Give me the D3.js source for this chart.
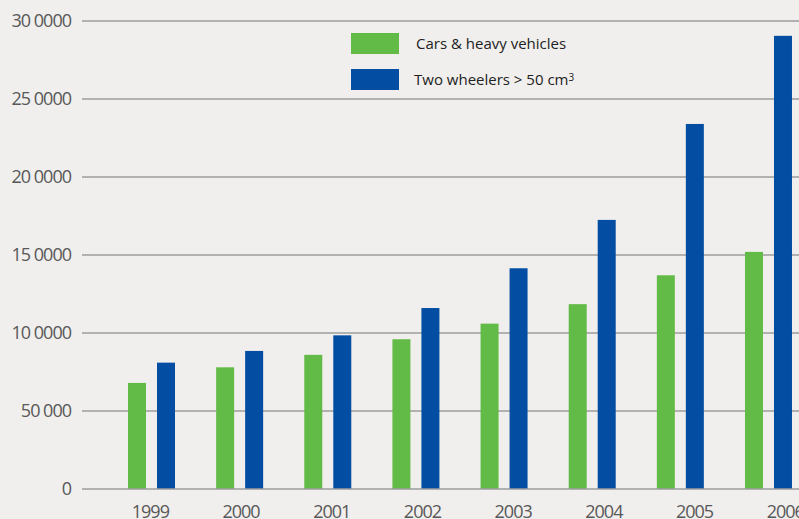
<!DOCTYPE html>
<html>
<head>
<meta charset="utf-8">
<script src="https://cdn.jsdelivr.net/npm/d3@7"></script>
<style>
  html, body { margin: 0; padding: 0; background: #f0efed; }
  svg { display: block; }
  text { font-family: "Open Sans", sans-serif; }
</style>
</head>
<body>
<svg id="chart"></svg>
<script>
document.addEventListener("DOMContentLoaded", function() {

    // chart size
    var width = 799;
    var height = 519;

    // data
    var years = ["1999", "2000", "2001", "2002", "2003", "2004", "2005", "2006"];
    var cars = [68000, 78000, 86000, 96000, 106000, 118500, 137000, 152000];
    var twoWheelers = [81000, 88500, 98500, 116000, 141500, 172500, 234000, 290500];
    var seriesNames = ["Cars & heavy vehicles", "Two wheelers > 50 cm"];
    var yTicks = [0, 50000, 100000, 150000, 200000, 250000, 300000];
    var yTickLabels = ["0", "50 000", "10 0000", "15 0000", "20 0000", "25 0000", "30 0000"];

    var colors = ["#63bb47", "#034ea2"];

    var svg = d3.select("#chart")
        .attr("width", width)
        .attr("height", height);

    var yScale = d3.scaleLinear()
        .domain([0, 300000])
        .range([489, 21]);

    // bar groups
    var xBand = d3.scaleBand()
        .domain(years)
        .range([128, 128 + 8 * 88.14])
        .padding(0);

    var xSub = d3.scaleBand()
        .domain([0, 1])
        .range([0, 47])
        .paddingInner(11 / 29)
        .paddingOuter(0);

    // year labels sit on a slightly wider spacing than the bars
    var xLabel = d3.scaleBand()
        .domain(years)
        .range([105, 105 + 8 * 90.7])
        .padding(0);

    // gridlines
    svg.append("g")
      .selectAll("line")
      .data(yTicks.slice(1))
      .enter()
      .append("line")
        .attr("x1", 82)
        .attr("x2", width)
        .attr("y1", d => yScale(d))
        .attr("y2", d => yScale(d))
        .attr("stroke", "#9c9c9c")
        .attr("stroke-width", 1.5);

    // y axis labels
    var yAxis = d3.axisLeft(yScale)
        .tickValues(yTicks)
        .tickSize(0)
        .tickPadding(0)
        .tickFormat((d, i) => yTickLabels[i]);

    var gy = svg.append("g")
        .attr("transform", "translate(71,0)")
        .call(yAxis);
    gy.select(".domain").remove();
    gy.selectAll("text")
        .attr("fill", "#585858")
        .style("font-size", "18px")
        .style("letter-spacing", "-1px")
        .style("font-family", "'Open Sans', sans-serif");

    // bars
    var rows = years.map((y, i) => ({ year: y, values: [cars[i], twoWheelers[i]] }));

    var groups = svg.append("g")
      .selectAll("g")
      .data(rows)
      .enter()
      .append("g")
        .attr("transform", d => `translate(${xBand(d.year)},0)`);

    groups.selectAll("rect")
      .data(d => d.values)
      .enter()
      .append("rect")
        .attr("x", (d, i) => xSub(i))
        .attr("width", xSub.bandwidth())
        .attr("y", d => yScale(d))
        .attr("height", d => yScale(0) - yScale(d))
        .attr("fill", (d, i) => colors[i]);

    // baseline on top of bars
    svg.append("line")
        .attr("x1", 82)
        .attr("x2", width)
        .attr("y1", yScale(0))
        .attr("y2", yScale(0))
        .attr("stroke", "#9c9c9c")
        .attr("stroke-width", 1.5);

    // x axis labels (cut by the bottom edge, as in the original)
    var xAxis = d3.axisBottom(xLabel).tickSize(0).tickPadding(0);
    var gx = svg.append("g")
        .attr("transform", "translate(0,505)")
        .call(xAxis);
    gx.select(".domain").remove();
    gx.selectAll("text")
        .attr("dy", "0.72em")
        .attr("fill", "#585858")
        .style("font-size", "18px")
        .style("letter-spacing", "-1px")
        .style("font-family", "'Open Sans', sans-serif");

    // legend
    var legend = svg.append("g")
      .selectAll("g")
      .data(seriesNames)
      .enter()
      .append("g")
        .attr("transform", (d, i) => `translate(351,${33 + i * 36})`);

    legend.append("rect")
        .attr("width", 48)
        .attr("height", 21)
        .attr("fill", (d, i) => colors[i]);

    var lt = legend.append("text")
        .attr("x", (d, i) => i === 0 ? 65 : 63)
        .attr("y", 11)
        .attr("dy", "0.35em")
        .attr("fill", "#222")
        .style("font-size", "15px")
        .text(d => d);

    lt.filter((d, i) => i === 1)
      .append("tspan")
        .attr("dy", "-0.45em")
        .style("font-size", "10px")
        .text("3");
});
</script>
</body>
</html>
